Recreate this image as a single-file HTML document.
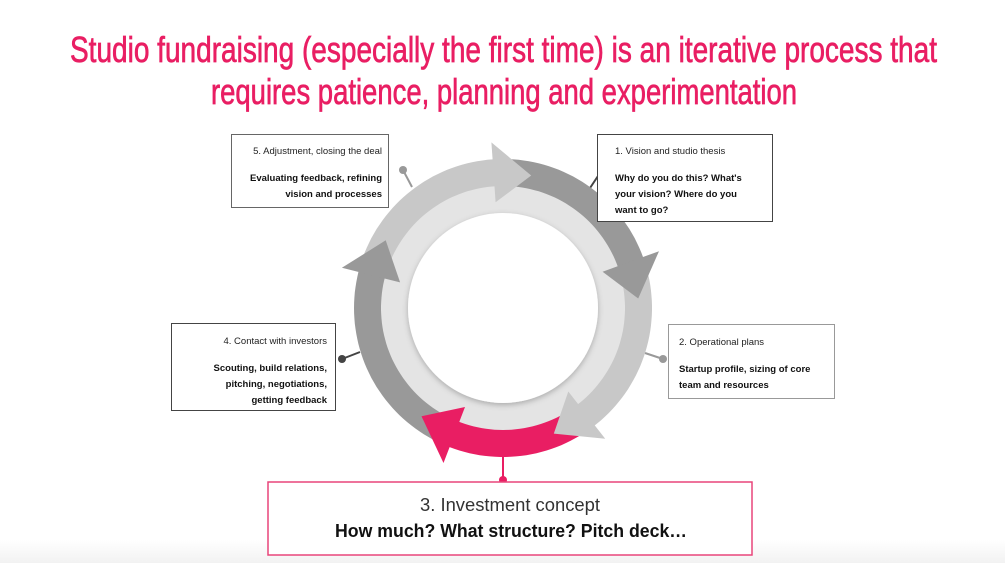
<!DOCTYPE html>
<html><head><meta charset="utf-8"><style>
html,body{margin:0;padding:0;background:#fff;}
svg{display:block;}
.t{font-family:"Liberation Sans Narrow","Liberation Sans",sans-serif;fill:#e91e63;stroke:#e91e63;stroke-width:0.7px;font-size:36px;}
.s{font-family:"Liberation Sans",sans-serif;font-size:9.5px;fill:#222;}
.b{font-family:"Liberation Sans",sans-serif;font-size:9.5px;font-weight:bold;fill:#111;}
</style></head><body>
<svg id="g" width="1005" height="563" viewBox="0 0 1005 563" xmlns="http://www.w3.org/2000/svg">
<defs>
<filter id="sh" x="-20%" y="-20%" width="140%" height="140%"><feDropShadow dx="0" dy="2" stdDeviation="3" flood-color="#000" flood-opacity="0.25"/></filter>
<linearGradient id="bg" x1="0" y1="0" x2="0" y2="1"><stop offset="0" stop-color="#fff"/><stop offset="1" stop-color="#f2f2f2"/></linearGradient>
</defs>
<rect x="0" y="540" width="1005" height="23" fill="url(#bg)"/>
<text class="t" x="70" y="62" textLength="867" lengthAdjust="spacingAndGlyphs">Studio fundraising (especially the first time) is an iterative process that</text>
<text class="t" x="211" y="104" textLength="586" lengthAdjust="spacingAndGlyphs">requires patience, planning and experimentation</text>

<g stroke-width="2">
<line x1="403" y1="170" x2="412" y2="187" stroke="#999"/><circle cx="403" cy="170" r="4" fill="#999"/>
<line x1="602" y1="170" x2="590" y2="188" stroke="#444"/><circle cx="602" cy="170" r="4" fill="#444"/>
<line x1="342" y1="359" x2="360" y2="352" stroke="#444"/><circle cx="342" cy="359" r="4" fill="#444"/>
<line x1="663" y1="359" x2="645" y2="353" stroke="#999"/><circle cx="663" cy="359" r="4" fill="#999"/>
<line x1="503" y1="450" x2="503" y2="480" stroke="#e91e63"/><circle cx="503" cy="480" r="4" fill="#e91e63"/>
</g>

<circle cx="503" cy="308" r="140" fill="#e4e4e4" filter="url(#sh)"/>
<g id="arrows"></g>
<circle cx="503" cy="308" r="95" fill="#fff" filter="url(#sh)"/>

<rect x="231.5" y="134.5" width="157" height="73" fill="#fff" stroke="#666"/>
<text class="s" x="382" y="154" text-anchor="end">5. Adjustment, closing the deal</text>
<text class="b" x="382" y="181" text-anchor="end">Evaluating feedback, refining</text>
<text class="b" x="382" y="197" text-anchor="end">vision and processes</text>

<rect x="597.5" y="134.5" width="175" height="87" fill="#fff" stroke="#444"/>
<text class="s" x="615" y="154">1. Vision and studio thesis</text>
<text class="b" x="615" y="181">Why do you do this? What's</text>
<text class="b" x="615" y="197">your vision? Where do you</text>
<text class="b" x="615" y="213">want to go?</text>

<rect x="171.5" y="323.5" width="164" height="87" fill="#fff" stroke="#444"/>
<text class="s" x="327" y="344" text-anchor="end">4. Contact with investors</text>
<text class="b" x="327" y="371" text-anchor="end">Scouting, build relations,</text>
<text class="b" x="327" y="387" text-anchor="end">pitching, negotiations,</text>
<text class="b" x="327" y="403" text-anchor="end">getting feedback</text>

<rect x="668.5" y="324.5" width="166" height="74" fill="#fff" stroke="#999"/>
<text class="s" x="679" y="345">2. Operational plans</text>
<text class="b" x="679" y="372">Startup profile, sizing of core</text>
<text class="b" x="679" y="388">team and resources</text>

<rect x="268" y="482" width="484" height="73" fill="#fff" stroke="#e8457a" stroke-width="1.5"/>
<text x="420" y="511" textLength="180" lengthAdjust="spacingAndGlyphs" font-family="'Liberation Sans',sans-serif" font-size="18" fill="#333">3. Investment concept</text>
<text x="335" y="537" textLength="352" lengthAdjust="spacingAndGlyphs" font-family="'Liberation Sans',sans-serif" font-size="18" font-weight="bold" fill="#111">How much? What structure? Pitch deck…</text>
</svg>
<script>
(function(){
var cx=503,cy=308,r1=122,r2=149,h1=106,h2=166;
function p(r,a){a=a*Math.PI/180;return (cx+r*Math.cos(a)).toFixed(1)+","+(cy+r*Math.sin(a)).toFixed(1);}
function body(a0,a1){
 var d="M"+p(r2,a0);
 for(var a=a0;a<=a1;a+=2)d+=" L"+p(r2,a);
 d+=" L"+p(r2,a1);
 for(var a=a1;a>=a0;a-=2)d+=" L"+p(r1,a);
 d+=" L"+p(r1,a0)+"Z";return d;}
function head(a1,len){
 var rm=(r1+r2)/2;
 return "M"+p(h1,a1)+" L"+p(h2,a1)+" L"+p(rm,a1+len)+"Z";}
var segs=[
 [-88,-20,"#999"],
 [-15,52,"#c8c8c8"],
 [55,111,"#e91e63"],
 [118,194,"#999"],
 [198,266,"#c8c8c8"]];
var g=document.getElementById("arrows"),h="";
segs.forEach(function(s){h+='<path d="'+body(s[0],s[1]+1)+'" fill="'+s[2]+'"/>';});
segs.forEach(function(s){h+='<path d="'+head(s[1],16)+'" fill="'+s[2]+'"/>';});
g.innerHTML=h;
})();
</script>
</body></html>
